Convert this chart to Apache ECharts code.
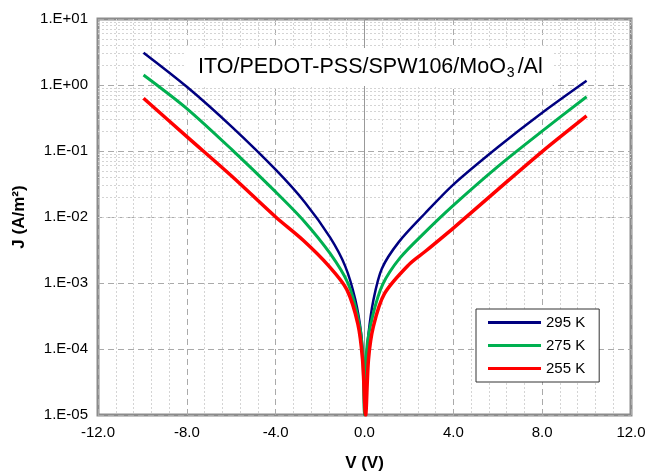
<!DOCTYPE html>
<html><head><meta charset="utf-8">
<script src="https://cdn.jsdelivr.net/npm/echarts@6/dist/echarts.min.js"></script>
<style>html,body{margin:0;padding:0;background:#fff}#c{width:647px;height:471px}</style>
</head><body><div id="c"></div>
<script>
// Data (V in volts, J in A/m^2)
const v295 = [-9.95,-8,-5.96,-4,-2.68,-1.55,-0.87,-0.42,-0.15,-0.05,0,0.07,0.18,0.4,0.78,1.55,2.73,4,6,8,10];
const j295 = [3.09,0.94,0.23,0.052,0.0166,0.0049,0.0018,0.00057,0.00017,0.000054,0.00001,0.000054,0.00017,0.00055,0.00165,0.0042,0.0114,0.031,0.114,0.38,1.16];
const v275 = [-9.95,-8,-5.96,-4,-2.7,-1.55,-0.75,-0.3,-0.09,0,0.1,0.36,0.82,1.6,2.73,4,6,8,10];
const j275 = [1.42,0.44,0.104,0.024,0.0085,0.0028,0.001,0.00031,0.0001,0.00001,0.0001,0.00031,0.00095,0.0024,0.0059,0.015,0.058,0.2,0.665];
const v255 = [-9.95,-8,-5.96,-4,-2.75,-1.6,-0.8,-0.3,-0.09,0.05,0.18,0.4,0.9,2.0,2.73,4,6,8,10];
const j255 = [0.63,0.165,0.041,0.01,0.0044,0.0018,0.0008,0.00024,0.00007,0.00001,0.00007,0.00022,0.00069,0.0019,0.003,0.0068,0.026,0.098,0.34];
const seriesNames = ['295 K','275 K','255 K'];
const seriesColors = ['#000080','#00B050','#FF0000'];
const xTicks = [-12,-8,-4,0,4,8,12];
const yTicks = [1e-5,1e-4,1e-3,1e-2,1e-1,1,10];
const yTickLabels = ['1.E-05','1.E-04','1.E-03','1.E-02','1.E-01','1.E+00','1.E+01'];
const minorMult = [2,3,4,5,6,7,8,9];

const zip = (a,b)=>a.map((x,i)=>[x,b[i]]);
const minorVals = [];
for (let d=-5; d<1; d++) for (const m of minorMult) minorVals.push(m*Math.pow(10,d));

const chart = echarts.init(document.getElementById('c'), null, {renderer:'canvas'});
const font = 'Liberation Sans, Arial, sans-serif';
chart.setOption({
  animation:false,
  grid:{left:98,right:16,top:19,bottom:56,containLabel:false,outerBoundsMode:'none',show:true,borderColor:'#8c8c8c',borderWidth:3,backgroundColor:'transparent'},
  xAxis:{type:'value',min:-12,max:12,interval:4,
    axisLine:{show:false},axisTick:{show:false},
    axisLabel:{color:'#000',fontSize:15,fontFamily:font,margin:10,formatter:v=>xTicks.includes(v)?v.toFixed(1):''},
    splitLine:{show:true,lineStyle:{color:'#aaaaaa',type:[6,4],width:1}},
    minorTick:{show:false,splitNumber:5},
    minorSplitLine:{show:true,lineStyle:{color:'#d4d4d4',type:[2,2],width:1}},
    name:'V (V)',nameLocation:'middle',nameGap:40,
    nameTextStyle:{fontSize:17,fontWeight:'bold',fontFamily:font,color:'#000'}},
  yAxis:{type:'log',logBase:10,min:1e-5,max:10,
    axisLine:{show:false},axisTick:{show:false},
    axisLabel:{color:'#000',fontSize:15,fontFamily:font,margin:10,formatter:v=>{const i=yTicks.findIndex(t=>Math.abs(Math.log10(t)-Math.log10(v))<1e-6);return i>=0?yTickLabels[i]:'';}},
    splitLine:{show:true,lineStyle:{color:'#aaaaaa',type:[6,4],width:1}},
    name:'J (A/m²)',nameLocation:'middle',nameGap:70,nameRotate:90,
    nameTextStyle:{fontSize:17,fontWeight:'bold',fontFamily:font,color:'#000'}},
  legend:{data:seriesNames,orient:'vertical',left:476,top:309,
    backgroundColor:'#fff',borderColor:'#333',borderWidth:1,padding:[6,14,6,12],
    itemWidth:53,itemHeight:3,itemGap:8,icon:'rect',
    textStyle:{fontSize:15,fontFamily:font,color:'#000'}},
  graphic:[{type:'text',left:186,top:48,z:10,
    style:{rich:{a:{fontSize:21.5,fontFamily:font,fill:'#000',lineHeight:26},
                 s:{fontSize:14,fontFamily:font,fill:'#000',lineHeight:26,padding:[12,3,0,1]}},
      text:'{a|ITO/PEDOT-PSS/SPW106/MoO}{s|3}{a|/Al}',
      backgroundColor:'#fff',padding:[6,10,6,12]}}],
  series:[
    {type:'line',name:'__grid',data:[],silent:true,z:1,
     markLine:{silent:true,symbol:'none',label:{show:false},animation:false,z:1,
       data:[...minorVals.map(v=>({yAxis:v,lineStyle:{color:'#d4d4d4',type:[2,2],width:1}})),
             {xAxis:0,lineStyle:{color:'#999',type:'solid',width:1}}]}},
    {type:'line',name:seriesNames[0],data:zip(v295,j295),showSymbol:false,smooth:0.3,z:10,
     lineStyle:{color:seriesColors[0],width:2.5},itemStyle:{color:seriesColors[0]}},
    {type:'line',name:seriesNames[1],data:zip(v275,j275),showSymbol:false,smooth:0.3,z:11,
     lineStyle:{color:seriesColors[1],width:3},itemStyle:{color:seriesColors[1]}},
    {type:'line',name:seriesNames[2],data:zip(v255,j255),showSymbol:false,smooth:0.3,z:12,
     lineStyle:{color:seriesColors[2],width:3.5},itemStyle:{color:seriesColors[2]}}
  ]
});
</script></body></html>
